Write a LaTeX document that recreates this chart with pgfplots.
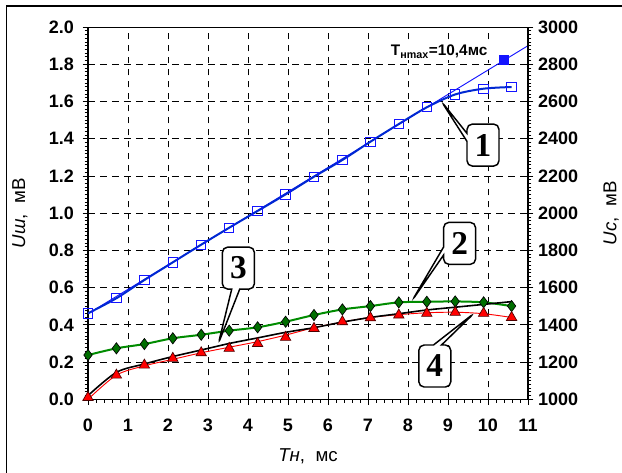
\documentclass[border=0pt]{standalone}
\usepackage{pgfplots}
\pgfplotsset{compat=1.18}
\usepackage{fontspec}
\setmainfont{Liberation Sans}
\newfontfamily\serifb{Liberation Serif}
\usetikzlibrary{shapes.callouts}

\definecolor{bl}{RGB}{0,40,210}
\definecolor{bm}{RGB}{20,20,255}
\definecolor{gl}{RGB}{0,140,0}
\definecolor{gm}{RGB}{0,110,0}

\pgfplotstableread{
x y
0 0.462
0.71 0.543
1.41 0.641
2.12 0.736
2.83 0.831
3.53 0.922
4.24 1.012
4.94 1.101
5.65 1.196
6.36 1.286
7.06 1.384
7.77 1.479
8.47 1.569
9.18 1.638
9.89 1.669
10.59 1.678
}\blue

\pgfplotstableread{
x y
0 0.238
0.71 0.274
1.41 0.297
2.12 0.328
2.83 0.347
3.53 0.369
4.24 0.387
4.94 0.417
5.65 0.453
6.36 0.483
7.06 0.501
7.77 0.521
8.47 0.524
9.18 0.526
9.89 0.521
10.59 0.501
}\green

\pgfplotstableread{
x y
0 0.01
0.71 0.13
1.41 0.184
2.12 0.22
2.83 0.25
3.53 0.274
4.24 0.30
4.94 0.333
5.65 0.381
6.36 0.417
7.06 0.438
7.77 0.453
8.47 0.462
9.18 0.467
9.89 0.462
10.59 0.44
}\red

\pgfplotstableread{
x y
0 0.0
0.71 0.13
1.41 0.18
2.12 0.215
2.83 0.25
3.53 0.28
4.24 0.31
4.94 0.345
5.65 0.385
6.36 0.415
7.06 0.44
7.77 0.455
8.47 0.465
9.18 0.468
9.89 0.46
10.59 0.44
}\redline

\pgfplotstableread{
x y
0 0.02
0.71 0.145
1.41 0.19
2.12 0.23
2.83 0.265
3.53 0.30
4.24 0.33
4.94 0.36
5.65 0.385
6.36 0.415
7.06 0.44
7.77 0.46
8.47 0.48
9.18 0.495
9.89 0.51
10.59 0.525
}\black

\pgfplotsset{
  common/.style={
    at={(66pt,54.5pt)}, anchor=south west, scale only axis,
    width=330pt, height=279.2pt,
    xmin=0, xmax=11,
    tick align=outside, major tick length=4pt, minor tick length=2.5pt,
    every tick/.style={black, line width=0.6pt},
    axis line style={black, line width=0.8pt},
    ticklabel style={font=\fontsize{13.5}{15}\selectfont\bfseries},
    /pgf/number format/assume math mode=true,
    label style={font=\fontsize{14}{16}\selectfont},
  }
}

\begin{document}
\begin{tikzpicture}[x=1pt,y=1pt]
\useasboundingbox (0,0) rectangle (466.5,354);
\draw[line width=1pt] (5,-2) -- (5,349.5) -- (470,349.5);

\begin{axis}[common,
  ymin=0, ymax=2,
  xtick={0,1,...,11}, ytick={0,0.2,...,2.01},
  minor x tick num=4, minor y tick num=9,
  xtick pos=bottom, ytick pos=left,
  grid=major,
  major grid style={black, line width=0.6pt, dash pattern=on 5pt off 4pt},
  yticklabel style={xshift=-3pt, /pgf/number format/.cd, fixed, fixed zerofill, precision=1},
  xticklabel style={yshift=-7pt},
  xlabel={\textit{Tн}, \ мс},
  ylabel={\textit{Uш}, \ мВ},
  xlabel style={at={(axis description cs:0.5,-0.152)}, anchor=center},
  ylabel style={at={(axis description cs:-0.155,0.5)}, anchor=center},
]
% thin blue extrapolation line
\addplot[bm, line width=0.7pt] coordinates {(0,0.46) (11,1.90)};
% curves
\addplot[bl, line width=1.5pt, smooth] table {\blue};
\addplot[gl, line width=1.5pt, smooth] table {\green};
\addplot[red, line width=0.7pt, smooth] table {\redline};
\addplot[black, line width=1.2pt, smooth] table {\black};
% markers
\addplot[only marks, mark=square, mark size=3.5pt, mark options={draw=bm, line width=0.7pt}] table {\blue};
\addplot[only marks, mark=diamond*, mark size=4.2pt, mark options={fill=gm, draw=black, line width=0.5pt}] table {\green};
\addplot[only marks, mark=triangle*, mark size=4.5pt, mark options={fill=red, draw=black!70!red, line width=0.5pt}] table {\red};
\addplot[only marks, mark=square*, mark size=3.5pt, mark options={fill=bm, draw=bm}] coordinates {(10.4,1.823)};

\node[fill=white, inner sep=1.5pt, font=\fontsize{11.5}{13}\selectfont\bfseries] at (axis cs:8.78,1.867) {T\textsubscript{нmax}=10,4мс};

\coordinate (c1) at (axis cs:9.875,1.366);
\coordinate (p1) at (axis cs:8.84,1.599);
\coordinate (c2) at (axis cs:9.29,0.838);
\coordinate (p2) at (axis cs:8.11,0.533);
\coordinate (c3) at (axis cs:3.76,0.705);
\coordinate (p3) at (axis cs:3.26,0.30);
\coordinate (c4) at (axis cs:8.67,0.179);
\coordinate (p4) at (axis cs:9.65,0.462);
\end{axis}

\begin{axis}[common,
  ymin=1000, ymax=3000,
  axis y line*=right, axis x line=none,
  ytick={1000,1200,...,3000}, minor y tick num=9,
  yticklabel style={/pgf/number format/.cd, 1000 sep={}},
  ylabel={\textit{Uc}, \ мВ},
  ylabel style={at={(axis description cs:1.189,0.5)}, anchor=center, rotate=0},
]
\addplot[draw=none] coordinates {(0,1000)};
\end{axis}

\tikzset{co/.style={rectangle callout, draw=black, line width=1.1pt, fill=white,
  rounded corners=4pt, minimum width=24pt, minimum height=31.5pt, inner sep=0pt,
  callout pointer width=6pt, font=\serifb\fontsize{25}{25}\selectfont\bfseries}}
\node[co, callout absolute pointer={(p1)}] at (c1) {1};
\node[co, callout absolute pointer={(p2)}] at (c2) {2};
\node[co, callout absolute pointer={(p3)}] at (c3) {3};
\node[co, callout absolute pointer={(p4)}] at (c4) {4};
\end{tikzpicture}
\end{document}
